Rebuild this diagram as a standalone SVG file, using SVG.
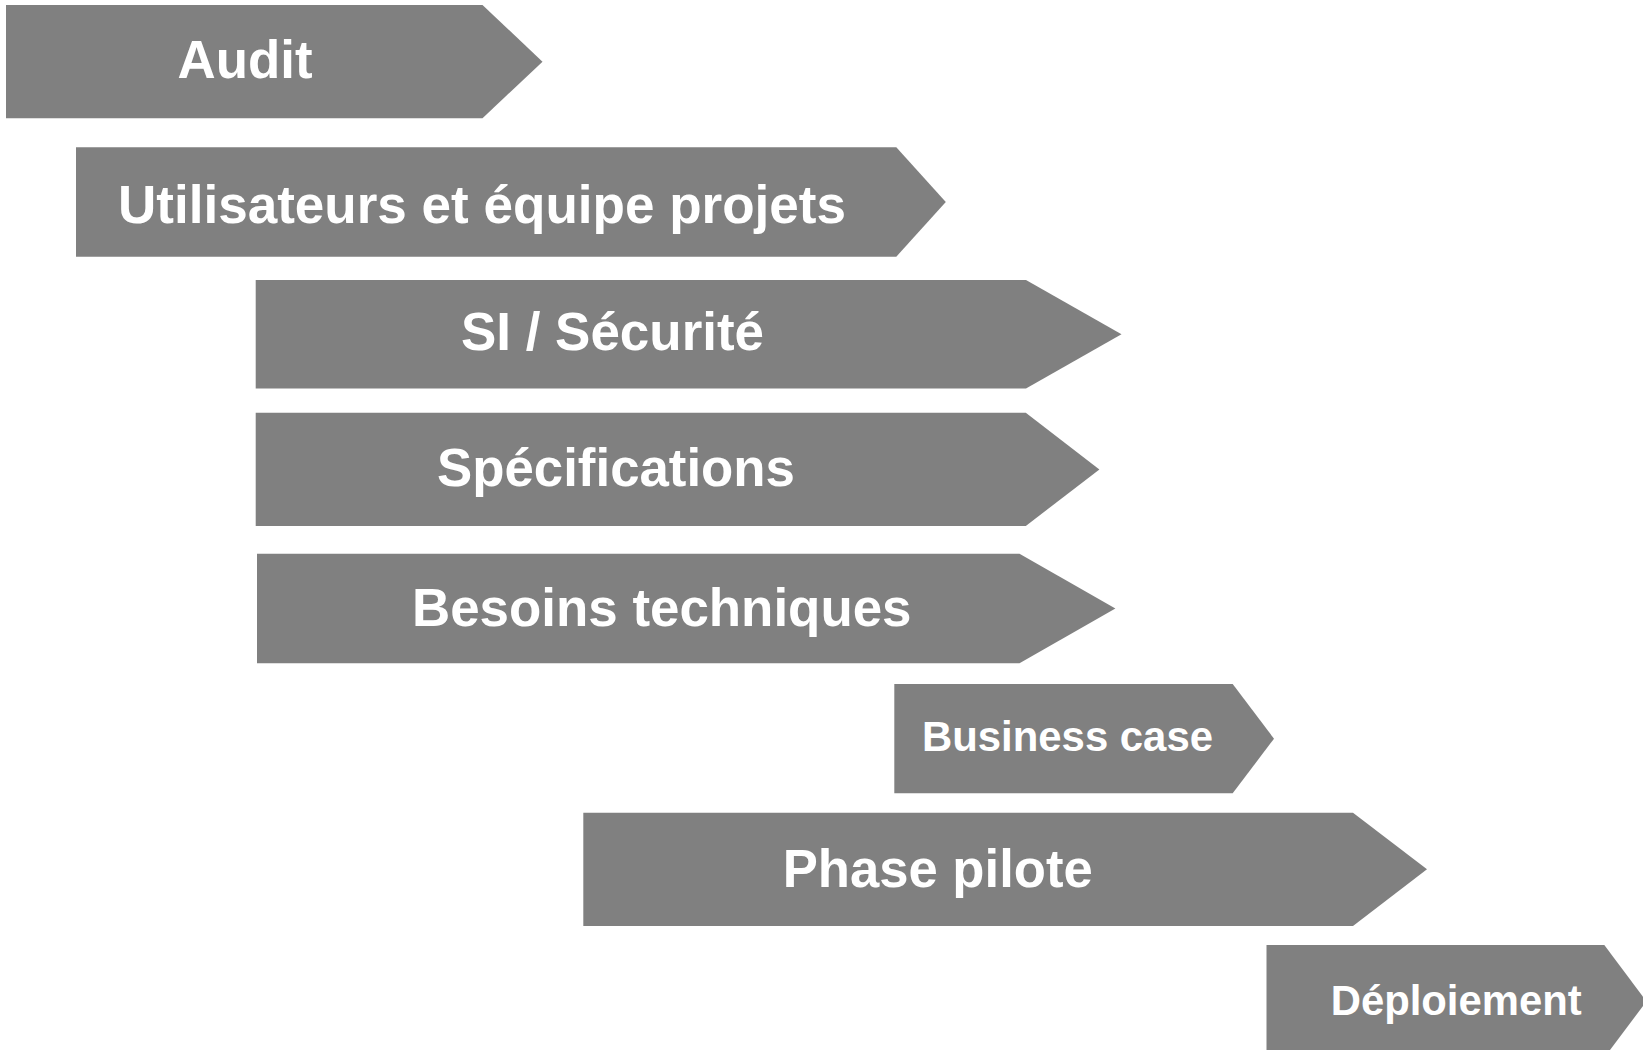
<svg xmlns="http://www.w3.org/2000/svg" width="1643" height="1050" viewBox="0 0 1643 1050">
  <style>
    .shape { fill: #808080; stroke: none; }
    .lbl { font-family: "Liberation Sans", Arial, Helvetica, sans-serif; font-weight: bold; fill: #ffffff; }
    .big { font-size: 53px; }
    .small { font-size: 42px; }
  </style>
  <rect width="1643" height="1050" fill="#ffffff"/>
  <g id="connectors"></g>
  <g id="node-audit">
    <polygon class="shape" points="6,5 482.5,5 542.5,61.7 482.5,118.3 6,118.3"/>
    <text class="lbl big" x="177.5" y="77.5" textLength="135" lengthAdjust="spacingAndGlyphs">Audit</text>
  </g>
  <g id="node-utilisateurs">
    <polygon class="shape" points="76,147.3 896.3,147.3 945.8,202 896.3,256.7 76,256.7"/>
    <text class="lbl big" x="118" y="222.5" textLength="728" lengthAdjust="spacingAndGlyphs">Utilisateurs et équipe projets</text>
  </g>
  <g id="node-si-securite">
    <polygon class="shape" points="255.7,280 1026,280 1121.5,334.3 1026,388.5 255.7,388.5"/>
    <text class="lbl big" x="461" y="350" textLength="303" lengthAdjust="spacingAndGlyphs">SI / Sécurité</text>
  </g>
  <g id="node-specifications">
    <polygon class="shape" points="255.7,412.7 1025.8,412.7 1099.4,469.4 1025.8,526 255.7,526"/>
    <text class="lbl big" x="437" y="486" textLength="358" lengthAdjust="spacingAndGlyphs">Spécifications</text>
  </g>
  <g id="node-besoins">
    <polygon class="shape" points="257,553.7 1019.5,553.7 1115.4,608.5 1019.5,663.3 257,663.3"/>
    <text class="lbl big" x="412" y="626" textLength="499.5" lengthAdjust="spacingAndGlyphs">Besoins techniques</text>
  </g>
  <g id="node-business-case">
    <polygon class="shape" points="894.3,684 1232.7,684 1274,738.7 1232.7,793.3 894.3,793.3"/>
    <text class="lbl small" x="922" y="751" textLength="291" lengthAdjust="spacingAndGlyphs">Business case</text>
  </g>
  <g id="node-phase-pilote">
    <polygon class="shape" points="583.3,812.7 1353,812.7 1427,869.3 1353,926 583.3,926"/>
    <text class="lbl big" x="782.7" y="887.3" textLength="310" lengthAdjust="spacingAndGlyphs">Phase pilote</text>
  </g>
  <g id="node-deploiement">
    <polygon class="shape" points="1266.5,945 1604.3,945 1646.5,1001.3 1604.3,1057.6 1266.5,1057.6"/>
    <text class="lbl small" x="1330.7" y="1014.5" textLength="251" lengthAdjust="spacingAndGlyphs">Déploiement</text>
  </g>
</svg>
